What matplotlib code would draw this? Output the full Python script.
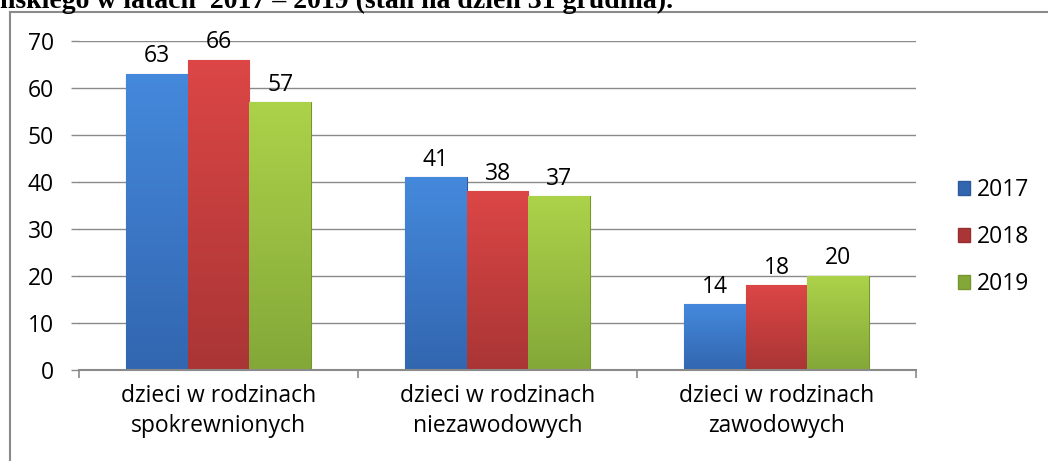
import numpy as np
import matplotlib
matplotlib.use('Agg')
import matplotlib.pyplot as plt
from matplotlib.colors import LinearSegmentedColormap
from matplotlib.lines import Line2D
from matplotlib.patches import Patch

# data
categories = ['dzieci w rodzinach\nspokrewnionych',
              'dzieci w rodzinach\nniezawodowych',
              'dzieci w rodzinach\nzawodowych']
years = ['2017', '2018', '2019']
v2017 = [63, 41, 14]
v2018 = [66, 38, 18]
v2019 = [57, 37, 20]
yticks = [0, 10, 20, 30, 40, 50, 60, 70]
title = 'nskiego w latach  2017 \u2013 2019 (stan na dzie\u0144 31 grudnia).'

series = [v2017, v2018, v2019]
# (top colour, bottom colour, edge)
colors = [('#4589dc', '#3266b0', '#2c5a9c'),
          ('#dc4646', '#aa3535', '#982e2e'),
          ('#acd24a', '#84a838', '#76952f')]

plt.rcParams['font.family'] = ['Open Sans', 'DejaVu Sans']
fs = 16.5

fig = plt.figure(figsize=(10.48, 4.61), dpi=100)
ax = fig.add_axes([79/1048, 1-370/461, (916-79)/1048, (370-41)/461])

x = np.arange(len(categories))
width = 0.222
for i, vals in enumerate(series):
  pos = x + (i-1)*width
  bars = ax.bar(pos, vals, width, color=colors[i][1], edgecolor=colors[i][2],
                linewidth=0.8, zorder=3)
  cmap = LinearSegmentedColormap.from_list('g%i' % i, [colors[i][0], colors[i][1]])
  grad = np.linspace(0, 1, 100).reshape(-1, 1)
  for b in bars:
    bx, by = b.get_x(), b.get_y()
    im = ax.imshow(grad, extent=[bx, bx+b.get_width(), by, by+b.get_height()],
                   aspect='auto', cmap=cmap, zorder=3.5, origin='upper')
    im.set_clip_path(b)
  for p, v in zip(pos, vals):
    ax.annotate(str(v), (p, v), xytext=(0, 4), textcoords='offset points',
                ha='center', va='bottom', fontsize=fs, zorder=5)

ax.set_xlim(-0.5, 2.5)
ax.set_ylim(0, 70)
ax.set_yticks(yticks)
ax.yaxis.grid(True, color='#8a8a8a', linewidth=1.0)
ax.set_axisbelow(True)
for s in ['top', 'right', 'left']:
  ax.spines[s].set_visible(False)
ax.spines['bottom'].set_color('#8a8a8a')
ax.spines['bottom'].set_linewidth(1.5)
ax.spines['bottom'].set_zorder(6)

ax.set_xticks(x)
ax.set_xticklabels(categories, fontsize=fs, linespacing=1.33)
ax.set_xticks([-0.5, 0.5, 1.5, 2.5], minor=True)
ax.tick_params(axis='x', which='major', length=0, pad=10)
ax.tick_params(axis='x', which='minor', length=6, width=1.2, color='#8a8a8a', direction='out')
ax.tick_params(axis='y', length=6, width=1.0, color='#8a8a8a', labelsize=fs, pad=12)

handles = [Patch(facecolor=colors[i][1], edgecolor=colors[i][2]) for i in range(3)]
fig.legend(handles, years, loc='center left', bbox_to_anchor=(937/1048, 1-237/461),
           frameon=False, fontsize=fs, handlelength=0.55, handleheight=0.55,
           handletextpad=0.3, labelspacing=1.0)

# cut-off frame of the chart area and the caption above it
fig.add_artist(Line2D([10/1048, 10/1048], [0, 1-12/461], color='#8a8a8a', linewidth=1.5))
fig.add_artist(Line2D([10/1048, 1], [1-12/461, 1-12/461], color='#8a8a8a', linewidth=1.5))
fig.text(0, 1-8/461, title, family='Liberation Serif', fontweight='bold', fontsize=20,
         ha='left', va='baseline')

fig.savefig('out.png', dpi=100)
